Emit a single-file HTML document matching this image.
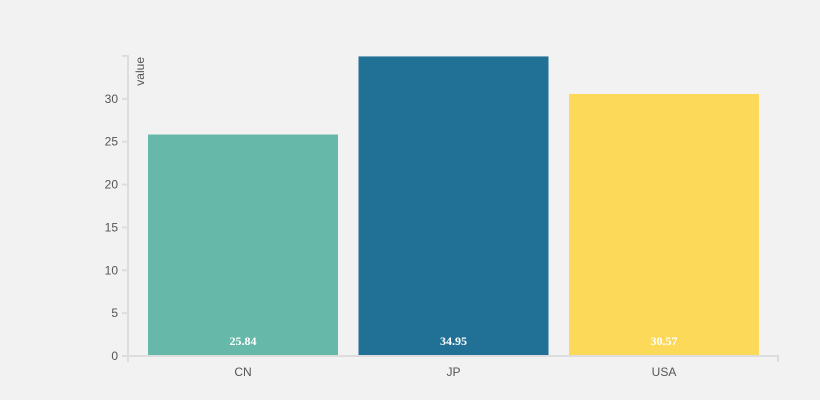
<!DOCTYPE html>
<html><head><meta charset="utf-8"><style>
body{margin:0;background:#f2f2f2;}
svg{display:block;font-family:"Liberation Sans",sans-serif;}
</style></head><body>
<svg id="chart" width="820" height="400">
<rect width="820" height="400" fill="#f2f2f2"/>
</svg>
<script>
const categories = ["CN", "JP", "USA"];
const values = [25.84, 34.95, 30.57];
const colors = ["#66b8a9", "#217196", "#fdd95a"];
const yTicks = [0, 5, 10, 15, 20, 25, 30];

const NS = "http://www.w3.org/2000/svg";
const svg = document.getElementById("chart");
const x0 = 128, x1 = 778, yBase = 356, yTop = 56, yMax = 35;
const y = v => yBase - (v / yMax) * (yBase - yTop);
const bandStart = 148, band = 210.5, bw = 190;
const xb = i => bandStart + band * i;
function el(tag, attrs, text) {
  const e = document.createElementNS(NS, tag);
  for (const k in attrs) e.setAttribute(k, attrs[k]);
  if (text !== undefined) e.textContent = text;
  svg.appendChild(e);
  return e;
}
categories.forEach((c, i) => {
  const r = el("rect", {x: xb(i), y: y(values[i]), width: bw, height: yBase - y(values[i]), fill: colors[i]});
  
  
  const t = el("text", {x: xb(i) + bw / 2, y: yBase - 11, "text-anchor": "middle", fill: "#fff", "font-size": 12, "font-weight": "bold", "font-family": "Liberation Serif, serif"}, values[i].toFixed(2));
  
  
  const xl = el("text", {x: xb(i) + bw / 2, y: 376, "text-anchor": "middle", fill: "#555", "font-size": 12}, c);
  
  
});
const ya = el("path", {d: `M122,56H128V362`, stroke: "#ddd", "stroke-width": 2, fill: "none"});


const xa = el("path", {d: `M122,${yBase}H${x1}V362`, stroke: "#ddd", "stroke-width": 2, fill: "none"});


yTicks.forEach(v => {
  const tk = el("line", {x1: 122, x2: 128, y1: y(v), y2: y(v), stroke: "#ddd", "stroke-width": 2});
  
  
  const tl = el("text", {x: 118, y: y(v) + 4, "text-anchor": "end", fill: "#555", "font-size": 12}, v);
  
  
});
const yt = el("text", {x: 0, y: 0, transform: "translate(144,57) rotate(-90)", "text-anchor": "end", fill: "#555", "font-size": 12}, "value");


</script>
</body></html>
